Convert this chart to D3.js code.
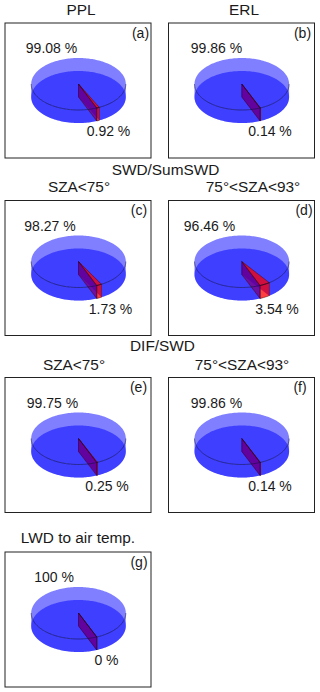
<!DOCTYPE html>
<html>
<head>
<meta charset="utf-8">
<script src="https://d3js.org/d3.v7.min.js"></script>
<style>
  html, body { margin: 0; padding: 0; background: #fff; }
  svg { display: block; }
  text { font-family: "Liberation Sans", Arial, sans-serif; font-size: 14px; fill: #1a1a1a; }
  text.heading { font-size: 15.4px; }
</style>
</head>
<body>
<svg id="canvas" width="320" height="692"></svg>
<script>
/***********************************************************************/
// Data

var panelLetters = ['(a)', '(b)', '(c)', '(d)', '(e)', '(f)', '(g)'];
var mainShare = [99.08, 99.86, 98.27, 96.46, 99.75, 99.86, 100];
var restShare = [0.92, 0.14, 1.73, 3.54, 0.25, 0.14, 0];
var headings = ['PPL', 'ERL', 'SWD/SumSWD', 'SZA<75°', '75°<SZA<93°', 'DIF/SWD', 'SZA<75°', '75°<SZA<93°', 'LWD to air temp.'];

/***********************************************************************/
// Layout

var boxX = [5, 168.5, 5, 168.5, 5, 168.5, 5];
var boxY = [23, 23, 200.5, 200.5, 377.5, 377.5, 552];
var boxW = 146, boxH = 135;
var pieX = [78.5, 241.8, 78.5, 241.8, 78.5, 241.8, 78.5];
var pieDY = 61, rx = 47.3, ry = 26, depth = 13;

var mainLabelX = [51.5, 216.5, 50, 209.5, 52.5, 216.5, 54];
var restLabelX = [108.5, 270, 110.5, 277, 107, 270, 106.5];
var mainLabelDY = 30, restLabelDY = 113;
var letterX = [140.5, 302.5, 139, 304, 138.5, 300, 139];
var letterDY = 14.5;

var headingX = [81, 244, 165.5, 79, 253, 162.5, 74, 242, 78];
var headingY = [15, 15, 175, 192, 192, 351, 370, 370, 543];

var startAngle = (180 - 22.7) * Math.PI / 180;
var blue = '#0000ff', red = '#ff0000', alpha = 0.5;

/***********************************************************************/
// Draw

var svg = d3.select('#canvas');
var pie = d3.pie().sort(null).startAngle(startAngle).endAngle(startAngle - 2 * Math.PI);

function arcAngles(from, to){
  var n = Math.max(2, Math.ceil(Math.abs(to - from) / 0.03));
  return d3.range(n + 1).map(i => from + (to - from) * i / n);
}

headings.forEach((h, i) => {
  svg.append('text').attr('class', 'heading').text(h).attr('x', headingX[i]).attr('y', headingY[i]).attr('text-anchor', 'middle');
});

panelLetters.forEach((letter, i) => {
  var top = boxY[i] + pieDY;
  var xScale = d3.scaleLinear().domain([-1, 1]).range([pieX[i] - rx, pieX[i] + rx]);
  var yScale = d3.scaleLinear().domain([-1, 1]).range([top - ry, top + ry]);
  var line = d3.line().x(d => xScale(d[0])).y(d => yScale(d[1]) + d[2]);
  var rim = (a, dz) => [Math.sin(a), -Math.cos(a), dz];
  var g = svg.append('g');

  var arcs = pie([restShare[i], mainShare[i]]);
  var a0 = arcs[0].startAngle, a1 = arcs[0].endAngle;

  var sector = (from, to, dz) => [[0, 0, dz]].concat(arcAngles(from, to).map(a => rim(a, dz)));
  var band = (from, to) => arcAngles(from, to).map(a => rim(a, 0)).concat(arcAngles(to, from).map(a => rim(a, depth)));
  var plane = a => [[0, 0, 0], rim(a, 0), rim(a, depth), [0, 0, depth]];
  var face = (pts, fill, stroke) => g.append('path').attr('d', line(pts) + 'Z')
    .attr('fill', fill).attr('fill-opacity', alpha)
    .attr('stroke', stroke || 'none').attr('stroke-width', 0.6).attr('stroke-opacity', 0.75);

  // main slice
  face(sector(a1, a0 - 2 * Math.PI, 0), blue);
  face(sector(a1, a0 - 2 * Math.PI, depth), blue);
  face(band(a1, Math.PI / 2), blue);
  face(band(-Math.PI / 2, a0 - 2 * Math.PI), blue);
  face(plane(a1), blue);

  // small slice
  face(sector(a0, a1, depth), red);
  face(band(a0, a1), red, '#300');
  face(plane(a1), red);
  face(plane(a0), red);
  face(plane(a0), blue, '#102');
  face(sector(a0, a1, 0), red, '#300');

  // front edge of the upper face
  g.append('path').attr('d', line(arcAngles(Math.PI / 2, 3 * Math.PI / 2).map(a => rim(a, 0))))
    .attr('fill', 'none').attr('stroke', '#101040').attr('stroke-width', 0.7).attr('stroke-opacity', 0.8);

  g.append('rect').attr('x', boxX[i]).attr('y', boxY[i]).attr('width', boxW).attr('height', boxH)
    .attr('fill', 'none').attr('stroke', '#222').attr('stroke-width', 1);

  g.append('text').text(letter).attr('x', letterX[i]).attr('y', boxY[i] + letterDY).attr('text-anchor', 'middle');
  g.append('text').text(mainShare[i] + ' %').attr('x', mainLabelX[i]).attr('y', boxY[i] + mainLabelDY).attr('text-anchor', 'middle');
  g.append('text').text(restShare[i] + ' %').attr('x', restLabelX[i]).attr('y', boxY[i] + restLabelDY).attr('text-anchor', 'middle');
});
</script>
</body>
</html>
